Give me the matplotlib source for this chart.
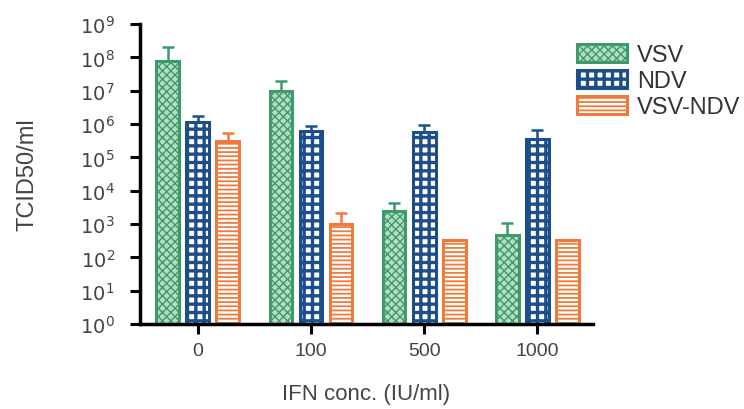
import matplotlib.pyplot as plt
import numpy as np

plt.rcParams["font.family"] = ["Liberation Sans", "DejaVu Sans"]

conc_labels = ["0", "100", "500", "1000"]
vsv = [8e7, 1.0e7, 2.5e3, 4.7e2]
vsv_err = [1.2e8, 0.9e7, 1.8e3, 6.0e2]
ndv = [1.15e6, 6.0e5, 5.8e5, 3.5e5]
ndv_err = [0.65e6, 3.0e5, 3.5e5, 3.3e5]
vn = [3.2e5, 1.0e3, 3.3e2, 3.3e2]
vn_err = [2.2e5, 1.1e3, 0, 0]

GREEN = "#3f9a6b"
GREEN_FILL = "#b5dcc4"
BLUE = "#1c4f8a"
ORANGE = "#ee7b3e"

fig = plt.figure(figsize=(7.44, 4.10), dpi=100)
ax = fig.add_axes([0.188, 0.207, 0.609, 0.732])

x = np.arange(len(conc_labels))
w = 0.2
off = 0.265

# values, err, label, face, edge, hatch, hatch lw, shift
series = [
    (vsv, vsv_err, "VSV", GREEN_FILL, GREEN, "xxxx", 1.0, -off),
    (ndv, ndv_err, "NDV", "white", BLUE, "++", 2.4, 0),
    (vn, vn_err, "VSV-NDV", "white", ORANGE, "----", 1.3, off),
]
handles = []
hatch_lws = []
for vals, err, lab, fc, ec, hatch, hlw, dx in series:
    with plt.rc_context({"hatch.linewidth": hlw}):
        b = ax.bar(x + dx, vals, w, bottom=1, color=fc, edgecolor=ec,
                   hatch=hatch, linewidth=2.2, label=lab)
    handles.append(b)
    hatch_lws.append(hlw)
    yerr = np.array([np.zeros(len(err)), err])
    ax.errorbar(x + dx, vals, yerr=yerr, fmt="none", ecolor=ec,
                elinewidth=1.8, capsize=4.5, capthick=1.8)

ax.set_yscale("log")
ax.set_ylim(1, 1e9)
ax.set_xlim(-0.51, 3.49)
ax.set_yticks([10.0 ** k for k in range(10)])
ax.set_yticklabels([f"$10^{k}$" for k in range(10)])
ax.minorticks_off()
ax.set_xticks(x)
ax.set_xticklabels(conc_labels)

for s in ["top", "right"]:
    ax.spines[s].set_visible(False)
for s in ["left", "bottom"]:
    ax.spines[s].set_linewidth(2.5)
ax.tick_params(axis="both", direction="out", length=7, width=2.2,
               labelsize=14, colors="black", labelcolor="#444444")
ax.tick_params(axis="y", pad=11)
ax.tick_params(axis="x", pad=6)

ax.set_ylabel("TCID50/ml", fontsize=17, color="#444444", labelpad=30)
ax.set_xlabel("IFN conc. (IU/ml)", fontsize=16, color="#444444", labelpad=17)

leg = fig.legend(handles=handles, loc="upper left",
                 bbox_to_anchor=(0.7755, 0.89), frameon=False, fontsize=17,
                 handlelength=2.1, handleheight=0.8, labelspacing=0.15,
                 handletextpad=0.45, borderpad=0, borderaxespad=0,
                 labelcolor="#333333")
for h, hlw in zip(leg.legend_handles, hatch_lws):
    if hasattr(h, "set_hatch_linewidth"):
        h.set_hatch_linewidth(hlw)

fig.savefig("out.png", dpi=100)
